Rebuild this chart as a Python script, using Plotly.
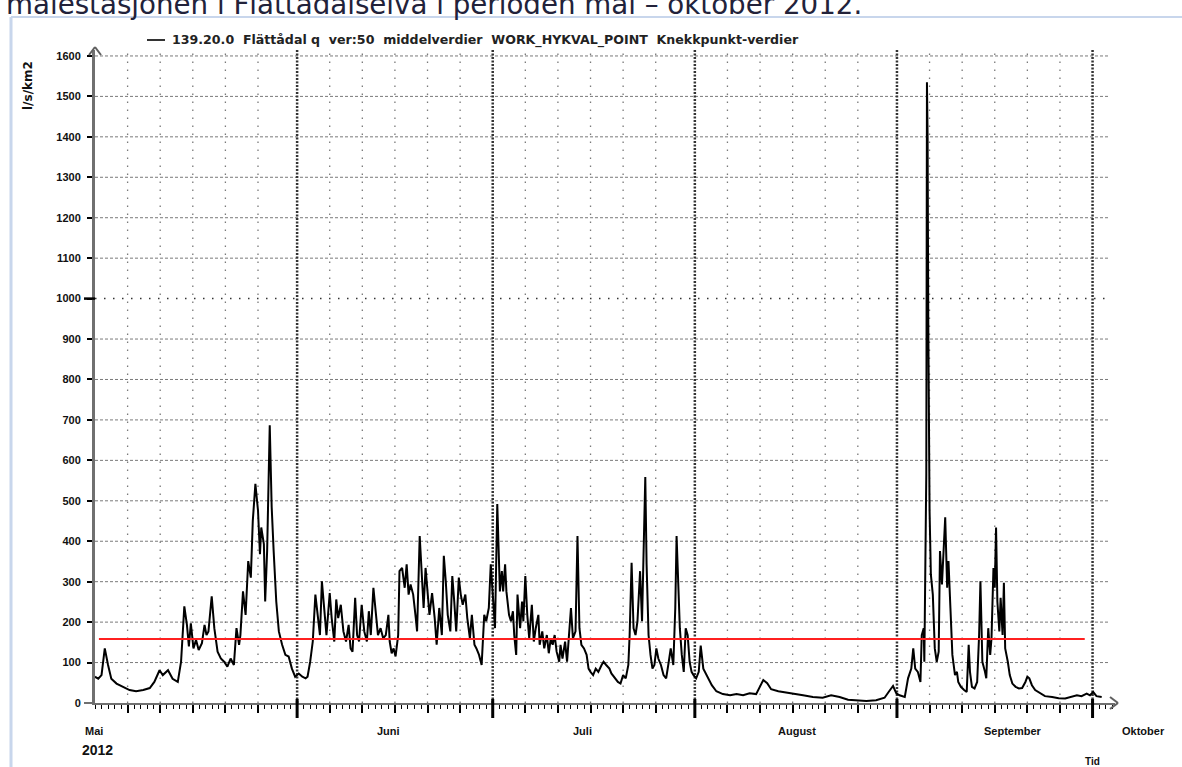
import pandas as pd
import plotly.graph_objects as go

START = pd.Timestamp("2012-05-01")

# ---- data: day offsets from 1 May 2012 and specific runoff (l/s/km2) ----
may_day = [0, 0.5, 1.0, 1.5, 2.0, 2.5, 3.3, 4.3, 5.3, 6.3, 7.4, 8.4, 9.1, 9.9, 10.4, 11.2, 11.9, 12.7,
           13.2, 13.7, 14.1, 14.4, 14.7, 15.1, 15.5, 15.9, 16.4, 16.8, 17.1, 17.4, 17.9, 18.3, 18.8, 19.3,
           19.8, 20.3, 20.8, 21.3, 21.7, 22.1, 22.3, 22.7, 23.1, 23.5, 23.9, 24.2, 24.6, 25.0, 25.3, 25.5,
           25.9, 26.1, 26.4, 26.8, 27.1, 27.4, 27.8, 28.2, 28.7, 29.2, 29.7, 30.2, 30.7]
may_q = [65, 60, 69, 135, 94, 60, 48, 40, 32, 29, 32, 37, 52, 81, 69, 81, 60, 52,
         102, 239, 193, 140, 197, 135, 156, 131, 148, 193, 168, 177, 264, 185, 127, 110,
         102, 90, 110, 94, 185, 144, 168, 276, 218, 351, 310, 450, 542, 476, 368, 434,
         393, 251, 376, 687, 484, 376, 251, 177, 144, 119, 115, 85, 65]

jun_day = [31.25, 31.8, 32.3, 32.6, 33.0, 33.4, 33.8, 34.1, 34.5, 34.8,
           35.2, 35.5, 36.0, 36.3, 36.7, 37.0, 37.3, 37.7, 38.1, 38.5,
           38.9, 39.2, 39.5, 39.9, 40.2, 40.5, 40.9, 41.3, 41.7, 42.0,
           42.3, 42.7, 43.1, 43.4, 43.8, 44.2, 44.6, 45.0, 45.2, 45.5,
           45.8, 46.1, 46.5, 46.7, 47.1, 47.5, 47.8, 48.1, 48.4, 48.8,
           49.2, 49.4, 49.8, 50.1, 50.4, 50.7, 51.0, 51.3, 51.7, 52.1,
           52.4, 52.8, 53.2, 53.5, 53.8, 54.1, 54.5, 54.8, 55.1, 55.4,
           55.8, 56.1, 56.4, 56.8, 57.1, 57.5, 57.8, 58.2, 58.5, 58.9,
           59.3, 59.7, 60.0, 60.4, 60.7, 61.05, 61.35, 61.7]
jun_q = [73, 65, 61, 65, 102, 152, 268, 218, 168, 301,
         218, 168, 272, 210, 152, 256, 210, 243, 177, 152,
         193, 135, 127, 260, 168, 152, 243, 177, 152, 227,
         168, 285, 218, 168, 185, 160, 168, 218, 152, 123,
         135, 115, 168, 326, 334, 285, 343, 268, 293, 268,
         210, 177, 413, 334, 235, 334, 268, 218, 272, 210,
         144, 235, 168, 364, 301, 218, 177, 314, 251, 177,
         310, 268, 243, 268, 210, 160, 218, 144, 135, 119,
         94, 218, 202, 235, 343, 268, 185, 492]

jul_day = [62.1, 62.4, 62.6, 62.9, 63.1, 63.5, 63.8, 64.1, 64.3, 64.6,
           64.8, 65.2, 65.5, 65.7, 66.0, 66.3, 66.6, 67.0, 67.3, 67.6,
           68.0, 68.2, 68.6, 68.9, 69.3, 69.6, 69.9, 70.2, 70.5, 70.8,
           71.2, 71.4, 71.7, 72.1, 72.4, 72.7, 73.0, 73.3, 73.7, 74.0,
           74.3, 74.6, 75.0, 75.4, 75.7, 76.0, 76.4, 76.8, 77.2, 77.7,
           78.0, 78.4, 78.9, 79.2, 79.7, 80.2, 80.6, 81.0, 81.4, 81.8,
           82.0, 82.3, 82.6, 82.9, 83.2, 83.6, 83.9, 84.2, 84.4, 84.6,
           84.9, 85.2, 85.5, 85.8, 86.1, 86.4, 86.8, 87.2, 87.6, 88.0,
           88.3, 88.7, 89.0, 89.2, 89.5, 89.7, 90.0, 90.3, 90.6, 90.9,
           91.2, 91.5, 91.8, 92.2, 92.6]
jul_q = [276, 326, 276, 343, 276, 218, 202, 227, 168, 119,
         268, 185, 251, 202, 314, 218, 160, 243, 152, 185,
         218, 144, 177, 135, 168, 123, 160, 144, 168, 127,
         102, 144, 110, 152, 102, 168, 235, 160, 177, 413,
         185, 144, 135, 119, 85, 77, 69, 85, 77, 94,
         102, 94, 85, 73, 61, 52, 48, 69, 61, 94,
         168, 347, 185, 168, 202, 326, 202, 426, 559, 343,
         168, 119, 85, 94, 135, 110, 94, 69, 61, 102,
         135, 94, 235, 413, 285, 185, 119, 77, 185, 168,
         102, 77, 69, 61, 77]

aug_day = [92.9, 93.3, 93.8, 94.6, 95.3, 96.3, 97.4, 98.4, 99.4, 100.4,
           101.4, 101.9, 102.5, 103.1, 103.7, 104.8, 105.8, 107.1, 108.6, 110.1,
           111.6, 112.9, 114.2, 115.5, 116.7, 118.3, 119.8, 121.1, 121.8, 122.4, 122.9]
aug_q = [142, 85, 70, 44, 29, 22, 19, 22, 19, 24,
         22, 39, 57, 49, 34, 29, 26, 22, 19, 15,
         13, 19, 15, 8, 6, 5, 7, 13, 29, 42, 24]

sep_day = [123.4, 124.2, 124.7, 125.2, 125.5, 125.8, 126.2, 126.6, 126.8, 127.1,
           127.2, 127.5, 127.6, 127.7, 127.8, 127.9, 128.0, 128.2, 128.5, 128.8,
           129.1, 129.4, 129.6, 129.9, 130.2, 130.4, 130.7, 130.9, 131.2, 131.5,
           131.9, 132.2, 132.4, 132.8, 133.3, 133.7, 134.0, 134.2, 134.5, 134.9,
           135.3, 135.6, 135.8, 136.1, 136.5, 136.7, 137.0, 137.3, 137.5, 137.8,
           138.0, 138.2, 138.4, 138.7, 138.9, 139.2, 139.4, 139.6, 140.0, 140.3,
           140.7, 141.2, 141.7, 142.2, 142.7, 143.0, 143.3, 143.7, 144.2, 145.0,
           145.7, 146.8, 147.8, 148.8, 149.8, 150.6, 151.3, 152.1, 152.6, 153.1,
           153.6, 154.4]
sep_q = [19, 15, 61, 85, 135, 85, 77, 52, 168, 185,
         102, 567, 1535, 1400, 950, 680, 476, 318, 268, 135,
         102, 127, 376, 293, 384, 459, 285, 351, 235, 119,
         69, 77, 52, 40, 32, 27, 144, 77, 40, 36,
         52, 168, 301, 102, 77, 61, 185, 119, 160, 334,
         285, 434, 251, 177, 260, 168, 297, 135, 102, 69,
         48, 40, 36, 37, 52, 65, 61, 44, 32, 23,
         17, 15, 12, 11, 15, 19, 17, 23, 19, 27,
         17, 15]

threshold_q = 158
threshold_days = [0.6, 151.8]

y_ticks = list(range(0, 1700, 100))
month_labels = ["Mai", "Juni", "Juli", "August", "September", "Oktober"]
month_starts = ["2012-06-01", "2012-07-01", "2012-08-01", "2012-09-01", "2012-10-01"]
legend_text = "139.20.0\u00a0\u00a0Flättådal q\u00a0\u00a0ver:50\u00a0\u00a0middelverdier\u00a0\u00a0WORK_HYKVAL_POINT\u00a0\u00a0Knekkpunkt-verdier"
y_title = "l/s/km2"
page_text = "målestasjonen i Flåttådalselva i perioden mai – oktober 2012."

# ---- build ----
days = may_day + jun_day + jul_day + aug_day + sep_day
q = may_q + jun_q + jul_q + aug_q + sep_q
x = START + pd.to_timedelta(days, unit="D")
thr_x = START + pd.to_timedelta(threshold_days, unit="D")

W, H = 1182, 767
L, R, T, B = 95, 1115, 50, 703
def px(v):
    return (v - L) / (R - L)
def py(v):
    return (B - v) / (B - T)

x_end = START + pd.Timedelta(days=(R - L) / 6.52)

fig = go.Figure()
fig.add_trace(go.Scatter(x=x, y=q, mode="lines", line=dict(color="black", width=2),
                         name=legend_text, showlegend=False))
fig.add_trace(go.Scatter(x=thr_x, y=[threshold_q, threshold_q], mode="lines",
                         line=dict(color="#ff2020", width=2), showlegend=False))

shapes = []
# horizontal grid
for v in y_ticks[1:]:
    if v == 1000:
        shapes.append(dict(type="line", xref="paper", yref="y", x0=0, x1=px(1108), y0=v, y1=v,
                           line=dict(color="#333333", width=1.5, dash="1.5px,7.5px"), layer="below"))
    else:
        shapes.append(dict(type="line", xref="paper", yref="y", x0=0, x1=px(1108), y0=v, y1=v,
                           line=dict(color="#7a7a7a", width=1, dash="3px,2px"), layer="below"))
# minor vertical grid every 5 days
minor_dates = pd.date_range("2012-05-01", "2012-10-01", freq="D")
minor_dates = [d for d in minor_dates if d.day in (6, 11, 16, 21, 26)]
for d in minor_dates:
    shapes.append(dict(type="line", xref="x", yref="paper", x0=d, x1=d, y0=0, y1=1,
                       line=dict(color="#7a7a7a", width=1.3, dash="1.5px,6.5px"), layer="below"))
# month lines
for d in month_starts:
    shapes.append(dict(type="line", xref="x", yref="paper", x0=d, x1=d, y0=0, y1=1,
                       line=dict(color="#333333", width=2.5, dash="2px,1.5px"), layer="below"))
    shapes.append(dict(type="line", xref="x", yref="paper", x0=d, x1=d, y0=py(699), y1=py(718),
                       line=dict(color="black", width=3)))
# axis extension and 1000 tick
shapes.append(dict(type="line", xref="paper", yref="paper", x0=px(84), x1=0, y0=0, y1=0,
                   line=dict(color="#707070", width=2)))
shapes.append(dict(type="line", xref="paper", yref="y", x0=px(84), x1=0, y0=1000, y1=1000,
                   line=dict(color="black", width=2.5)))
# arrows
for (a, b, c, d) in [(95, 47, 89, 55), (95, 47, 101, 55), (1118, 703, 1110, 697), (1118, 703, 1110, 709)]:
    shapes.append(dict(type="line", xref="paper", yref="paper", x0=px(a), y0=py(b), x1=px(c), y1=py(d),
                       line=dict(color="#606060", width=2)))
# legend sample
shapes.append(dict(type="line", xref="paper", yref="paper", x0=px(147), x1=px(165), y0=py(40), y1=py(40),
                   line=dict(color="#333333", width=2)))
# page frame
shapes.append(dict(type="line", xref="paper", yref="paper", x0=px(11), x1=px(11), y0=py(17), y1=py(770),
                   line=dict(color="#c8d6ec", width=3)))
shapes.append(dict(type="line", xref="paper", yref="paper", x0=px(11), x1=px(1185), y0=py(17), y1=py(17),
                   line=dict(color="#c8d6ec", width=2)))

ann = []
lab_font = dict(family="Liberation Sans, Arial", size=11, color="#111111", weight="bold")
for text, cx in zip(month_labels, [94, 388, 582, 797, 1013, 1143]):
    ann.append(dict(text=text, xref="paper", yref="paper", x=px(cx), y=py(731), xanchor="center",
                    yanchor="middle", showarrow=False, font=lab_font))
ann.append(dict(text="2012", xref="paper", yref="paper", x=px(97), y=py(750), xanchor="center",
                yanchor="middle", showarrow=False,
                font=dict(family="Liberation Sans, Arial", size=14, color="#111111", weight="bold")))
ann.append(dict(text="Tid", xref="paper", yref="paper", x=px(1092), y=py(761), xanchor="center",
                yanchor="middle", showarrow=False, font=dict(family="Liberation Sans, Arial", size=10, color="#111111", weight="bold")))
ann.append(dict(text=y_title, xref="paper", yref="paper", x=px(28), y=py(86), xanchor="center",
                yanchor="middle", textangle=-90, showarrow=False,
                font=dict(family="DejaVu Sans", size=12, color="#111111", weight="bold")))
ann.append(dict(text=legend_text, xref="paper", yref="paper", x=px(170), y=py(40), xanchor="left",
                yanchor="middle", showarrow=False,
                font=dict(family="DejaVu Sans", size=12.6, color="#222222", weight="bold")))
ann.append(dict(text=page_text, xref="paper", yref="paper", x=px(4), y=py(4), xanchor="left",
                yanchor="middle", showarrow=False,
                font=dict(family="DejaVu Sans", size=27.7, color="#22223a")))

fig.update_layout(
    width=W, height=H,
    margin=dict(l=L, r=W - R, t=T, b=H - B, pad=0),
    paper_bgcolor="white", plot_bgcolor="white",
    showlegend=False,
    shapes=shapes, annotations=ann,
    xaxis=dict(type="date", range=[START, x_end], showgrid=False, zeroline=False,
               showline=True, linecolor="#707070", linewidth=2,
               tickmode="array", tickvals=minor_dates, ticks="outside", ticklen=8, tickwidth=2,
               tickcolor="black", showticklabels=False,
               minor=dict(ticks="outside", ticklen=4, tickwidth=1, tickcolor="black",
                          dtick=86400000, tick0="2012-05-01", showgrid=False)),
    yaxis=dict(range=[0, (B - T) / 0.4044], showgrid=False, zeroline=False,
               showline=True, linecolor="#707070", linewidth=3,
               tickmode="array", tickvals=y_ticks, ticks="outside", ticklen=5, tickwidth=2,
               tickcolor="black", ticklabelstandoff=4,
               tickfont=dict(family="Liberation Sans, Arial", size=11, color="#111111", weight="bold")),
)

fig.write_html("out.html", config={"displayModeBar": False},
               post_script="document.body.style.margin='0px';document.body.style.overflow='hidden';")
